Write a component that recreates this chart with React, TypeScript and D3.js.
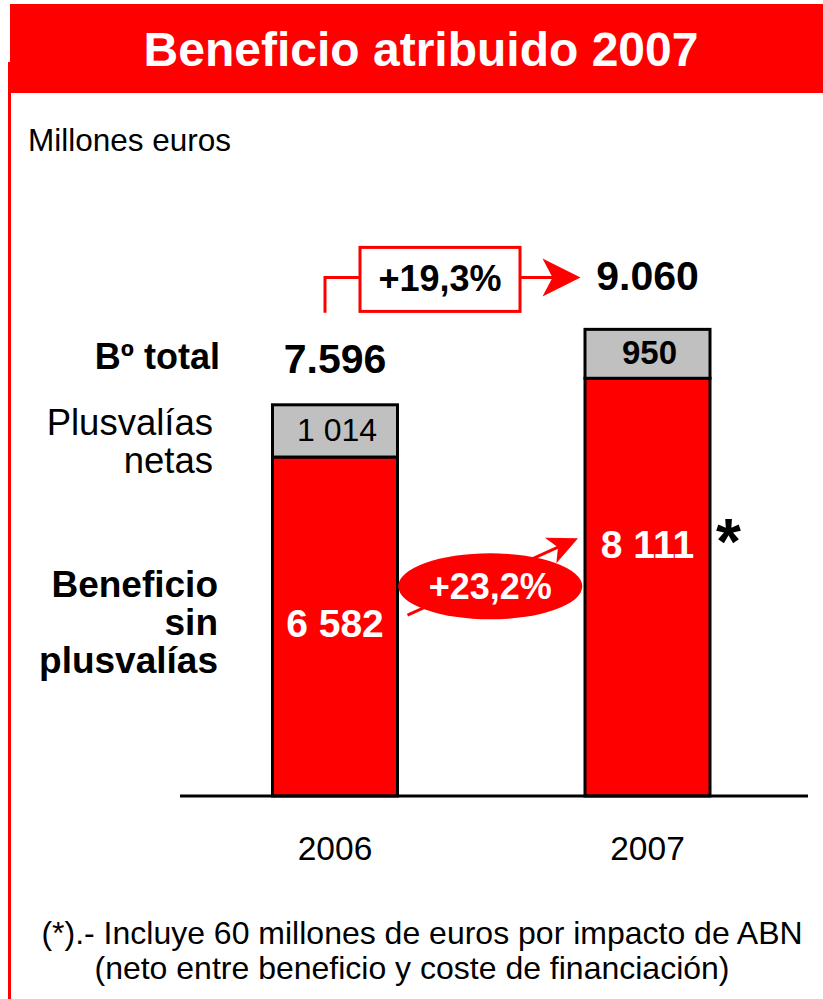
import React, { useEffect, useRef } from 'react';
import * as d3 from 'd3';

// chart values (millones de euros)
const years = ['2006', '2007'];
const sinPlusvalias = [6582, 8111];
const plusvaliasNetas = [1014, 950];
const totals = [7596, 9060]; // as published (rounded)
const leftLabelsTotal = ['Bº total'];
const leftLabelsPlus = ['Plusvalías', 'netas'];
const leftLabelsSin = ['Beneficio', 'sin', 'plusvalías'];
const footnote = [
  '(*).- Incluye 60 millones de euros por impacto de ABN',
  '(neto entre beneficio y coste de financiación)',
];

const FONT = "'Liberation Sans', Arial, sans-serif";
const RED = '#FF0000';
const GREY = '#C0C0C0';

const App = () => {
  const chartRef = useRef<SVGSVGElement>(null);

  useEffect(() => {
    drawChart();
  }, []);

  const drawChart = () => {
    const width = 823;
    const height = 999;
    const svg = d3.select(chartRef.current);
    svg.selectAll('*').remove();
    svg.attr('width', width).attr('height', height);

    const loc = d3.formatLocale({ decimal: ',', thousands: ' ', grouping: [3], currency: ['', ''] });
    const locDot = d3.formatLocale({ decimal: ',', thousands: '.', grouping: [3], currency: ['', ''] });
    const fmtSeg = loc.format(',d');
    const fmtTotal = locDot.format(',d');
    const fmtPct = loc.format('+.1%');

    const x = d3.scaleBand().domain(years).range([180, 802.5]).paddingInner(0.6).paddingOuter(0.296);
    const y = d3.scaleLinear().domain([0, 10000]).range([796, 281]);
    const bw = x.bandwidth();
    const cx = (yr: string) => (x(yr) as number) + bw / 2;

    // frame: title bar + left rule
    svg.append('rect').attr('x', 10).attr('y', 4).attr('width', 813).attr('height', 89).attr('fill', RED);
    svg.append('rect').attr('x', 8).attr('y', 62).attr('width', 3).attr('height', 937).attr('fill', RED);
    svg
      .append('text')
      .attr('x', 421)
      .attr('y', 66)
      .attr('text-anchor', 'middle')
      .attr('font-family', FONT)
      .attr('font-weight', 'bold')
      .attr('font-size', 48)
      .attr('fill', '#fff')
      .text('Beneficio atribuido 2007');

    svg
      .append('text')
      .attr('x', 28)
      .attr('y', 151)
      .attr('font-family', FONT)
      .attr('font-size', 31.5)
      .attr('fill', '#000')
      .text('Millones euros');

    // stacked bars
    const g = svg.append('g');
    g.selectAll('rect.sin')
      .data(years)
      .enter()
      .append('rect')
      .attr('class', 'sin')
      .attr('x', (d) => x(d) as number)
      .attr('y', (_, i) => y(sinPlusvalias[i]))
      .attr('width', bw)
      .attr('height', (_, i) => y(0) - y(sinPlusvalias[i]))
      .attr('fill', RED)
      .attr('stroke', '#000')
      .attr('stroke-width', 3);

    g.selectAll('rect.plus')
      .data(years)
      .enter()
      .append('rect')
      .attr('class', 'plus')
      .attr('x', (d) => x(d) as number)
      .attr('y', (_, i) => y(sinPlusvalias[i] + plusvaliasNetas[i]))
      .attr('width', bw)
      .attr('height', (_, i) => y(0) - y(plusvaliasNetas[i]))
      .attr('fill', GREY)
      .attr('stroke', '#000')
      .attr('stroke-width', 3);

    // baseline axis
    svg.append('line').attr('x1', 180).attr('x2', 808).attr('y1', y(0)).attr('y2', y(0)).attr('stroke', '#000').attr('stroke-width', 3);

    svg
      .selectAll('text.year')
      .data(years)
      .enter()
      .append('text')
      .attr('class', 'year')
      .attr('x', (d) => cx(d))
      .attr('y', 860)
      .attr('text-anchor', 'middle')
      .attr('font-family', FONT)
      .attr('font-size', 33.5)
      .text((d) => d);

    // segment labels
    svg
      .selectAll('text.plusLbl')
      .data(years)
      .enter()
      .append('text')
      .attr('class', 'plusLbl')
      .attr('x', (d) => cx(d) + 2)
      .attr('y', (_, i) => y(sinPlusvalias[i] + plusvaliasNetas[i] / 2) + 10)
      .attr('text-anchor', 'middle')
      .attr('font-family', FONT)
      .attr('font-weight', (_, i) => (i === 0 ? 'normal' : 'bold'))
      .attr('font-size', (_, i) => (i === 0 ? 32 : 33))
      .text((_, i) => fmtSeg(plusvaliasNetas[i]));

    svg
      .selectAll('text.sinLbl')
      .data(years)
      .enter()
      .append('text')
      .attr('class', 'sinLbl')
      .attr('x', (d) => cx(d))
      .attr('y', (_, i) => y(sinPlusvalias[i]) + 180)
      .attr('text-anchor', 'middle')
      .attr('font-family', FONT)
      .attr('font-weight', 'bold')
      .attr('font-size', 39)
      .attr('fill', '#fff')
      .text((_, i) => fmtSeg(sinPlusvalias[i]));

    // totals above bars
    const totalDy = [-32, -39];
    svg
      .selectAll('text.total')
      .data(years)
      .enter()
      .append('text')
      .attr('class', 'total')
      .attr('x', (d) => cx(d))
      .attr('y', (_, i) => y(totals[i]) + totalDy[i])
      .attr('text-anchor', 'middle')
      .attr('font-family', FONT)
      .attr('font-weight', 'bold')
      .attr('font-size', 41)
      .text((_, i) => fmtTotal(totals[i]));

    svg
      .append('text')
      .attr('x', cx(years[1]) + 81)
      .attr('y', y(sinPlusvalias[1]) + 186)
      .attr('text-anchor', 'middle')
      .attr('font-family', FONT)
      .attr('font-weight', 'bold')
      .attr('font-size', 64)
      .text('*');

    // left-hand row labels
    const leftLabel = (lines: string[], xEnd: number, y0: number, bold: boolean, size: number, lh: number) => {
      lines.forEach((t, i) => {
        svg
          .append('text')
          .attr('x', xEnd)
          .attr('y', y0 + i * lh)
          .attr('text-anchor', 'end')
          .attr('font-family', FONT)
          .attr('font-weight', bold ? 'bold' : 'normal')
          .attr('font-size', size)
          .text(t);
      });
    };
    leftLabel(leftLabelsTotal, 220, 369, true, 36, 0);
    leftLabel(leftLabelsPlus, 213, 435, false, 36.5, 38);
    leftLabel(leftLabelsSin, 218, 597, true, 37, 38);

    // total growth connector (+19,3%)
    const topY = y(totals[1]) - 52;
    const boxX0 = cx(years[0]) + 25;
    const boxX1 = boxX0 + 160;
    svg
      .append('path')
      .attr('d', `M${cx(years[0]) - 10},${y(totals[0]) - 92} V${topY} H${boxX0} M${boxX1},${topY} H${cx(years[1]) - 90}`)
      .attr('fill', 'none')
      .attr('stroke', RED)
      .attr('stroke-width', 3);
    svg
      .append('rect')
      .attr('x', boxX0)
      .attr('y', topY - 30)
      .attr('width', boxX1 - boxX0)
      .attr('height', 64)
      .attr('fill', '#fff')
      .attr('stroke', RED)
      .attr('stroke-width', 3);
    svg
      .append('text')
      .attr('x', (boxX0 + boxX1) / 2)
      .attr('y', topY + 14)
      .attr('text-anchor', 'middle')
      .attr('font-family', FONT)
      .attr('font-weight', 'bold')
      .attr('font-size', 36)
      .text(fmtPct(totals[1] / totals[0] - 1));

    const arrowHead = (tx: number, ty: number, ux: number, uy: number, len: number, half: number, notch: number) => {
      const bx = tx - ux * len;
      const by = ty - uy * len;
      const nx = -uy;
      const ny = ux;
      const pts = [
        [tx, ty],
        [bx + nx * half, by + ny * half],
        [tx - ux * (len - notch), ty - uy * (len - notch)],
        [bx - nx * half, by - ny * half],
      ];
      svg.append('polygon').attr('points', pts.map((p) => p.join(',')).join(' ')).attr('fill', RED);
    };
    arrowHead(cx(years[1]) - 67, topY, 1, 0, 38, 19, 10);

    // underlying growth arrow (+23,2%)
    const ax0 = cx(years[0]) + bw / 2 + 10;
    const ay0 = y(sinPlusvalias[0]) + 158;
    const ax1 = cx(years[1]) - bw / 2 - 7;
    const ay1 = y(sinPlusvalias[1]) + 160;
    const len = Math.hypot(ax1 - ax0, ay1 - ay0);
    const ux = (ax1 - ax0) / len;
    const uy = (ay1 - ay0) / len;
    svg
      .append('line')
      .attr('x1', ax0)
      .attr('y1', ay0)
      .attr('x2', ax1 - ux * 20)
      .attr('y2', ay1 - uy * 20)
      .attr('stroke', RED)
      .attr('stroke-width', 3);
    arrowHead(ax1, ay1, ux, uy, 30, 14, 8);

    const ex = (cx(years[0]) + cx(years[1])) / 2 - 1;
    const ey = y(sinPlusvalias[1]) + 208;
    svg.append('ellipse').attr('cx', ex).attr('cy', ey).attr('rx', 92).attr('ry', 33).attr('fill', RED);
    svg
      .append('text')
      .attr('x', ex)
      .attr('y', ey + 13)
      .attr('text-anchor', 'middle')
      .attr('font-family', FONT)
      .attr('font-weight', 'bold')
      .attr('font-size', 36)
      .attr('fill', '#fff')
      .text(fmtPct(sinPlusvalias[1] / sinPlusvalias[0] - 1));

    // footnote
    svg
      .selectAll('text.note')
      .data(footnote)
      .enter()
      .append('text')
      .attr('class', 'note')
      .attr('x', (_, i) => (i === 0 ? 422 : 412))
      .attr('y', (_, i) => 944 + i * 35)
      .attr('text-anchor', 'middle')
      .attr('font-family', FONT)
      .attr('font-size', 32)
      .text((d) => d);
  };

  return (
    <svg
      ref={chartRef}
      style={{ position: 'absolute', left: 0, top: 0, background: '#fff' }}
    ></svg>
  );
};

export default App;
